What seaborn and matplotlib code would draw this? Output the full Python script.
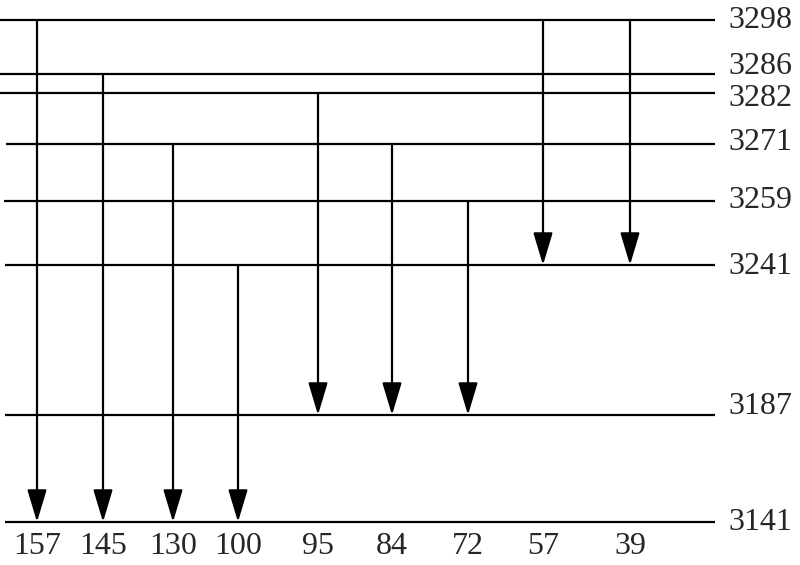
import seaborn as sns
import matplotlib.pyplot as plt

# Niveaux d'énergie (valeurs affichées à droite)
levels = [3298, 3286, 3282, 3271, 3259, 3241, 3187, 3141]
# hauteur schématique de chaque niveau sur le dessin (pas à l'échelle)
level_pos = [20, 74, 93, 144, 201, 265, 415, 522]
level_start = [0, 0, 0, 6, 4, 5, 5, 5]
# décalage vertical des étiquettes (3286 / 3282 sont très proches)
label_shift = [0, -7, 5, -2, -1, 1, -8, 0]

# Transitions : écart, niveau de départ, niveau d'arrivée
gaps = [157, 145, 130, 100, 95, 84, 72, 57, 39]
upper = [3298, 3286, 3271, 3241, 3282, 3271, 3259, 3298, 3298]
lower = [3141, 3141, 3141, 3141, 3187, 3187, 3187, 3241, 3241]
arrow_x = [37, 103, 173, 238, 318, 392, 468, 543, 630]

sns.set_style("white")
plt.rcParams['font.family'] = ['Liberation Serif', 'DejaVu Serif']

fig = plt.figure(figsize=(8, 5.65), dpi=100)
ax = fig.add_axes([0, 0, 1, 1])
ax.set_xlim(0, 800)
ax.set_ylim(565, 0)
ax.axis('off')

pos = dict(zip(levels, level_pos))

for lv, y, x0, dy in zip(levels, level_pos, level_start, label_shift):
    ax.hlines(y, x0, 715, color='black', lw=1.6)
    ax.text(728, y + dy, str(lv), fontsize=23, va='center', ha='left')

for g, u, l, x in zip(gaps, upper, lower, arrow_x):
    ax.annotate('', xy=(x, pos[l]), xytext=(x, pos[u]),
                arrowprops=dict(arrowstyle='-|>,head_length=1.0,head_width=0.3',
                                mutation_scale=20, color='black', lw=1.6,
                                shrinkA=0, shrinkB=0))
    ax.text(x, 546, str(g), fontsize=23, va='center', ha='center')

fig.savefig('out.png', dpi=100, facecolor='white')
